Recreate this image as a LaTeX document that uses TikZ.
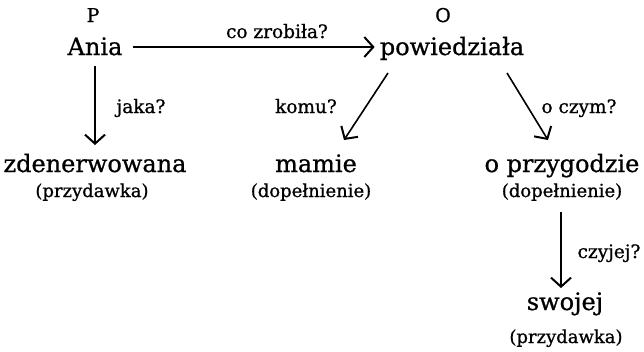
\documentclass[tikz,border=0pt]{standalone}
\usepackage{fontspec}
\setmainfont{DejaVu Serif}[RawFeature={embolden=0.8}]
\usetikzlibrary{arrows.meta,calc}
\begin{document}
\begin{tikzpicture}[x=1pt,y=-1pt,
  word/.style={inner sep=0pt, anchor=base, font=\fontsize{24}{26}\selectfont},
  sub/.style={inner sep=0pt, anchor=base, font=\fontsize{18}{20}\selectfont},
  lab/.style={inner sep=0pt, anchor=base, font=\fontsize{18.5}{20}\selectfont},
  tag/.style={inner sep=0pt, anchor=base, font=\fontsize{19}{21}\selectfont},
  arr/.style={line width=1.6pt, -{Straight Barb[length=9pt,width=20pt,line width=2pt]}}]
\useasboundingbox[fill=white] (0,0) rectangle (644,351);
% words
\node[word] (ania) at (95,55) {Ania};
\node[tag] (p) at (93,22) {P};
\node[word] (pow) at (452,55) {powiedziała};
\node[tag] (o) at (443,22) {O};
\node[word] (zden) at (95,172) {zdenerwowana};
\node[sub] (zdenS) at (92,197) {(przydawka)};
\node[word] (mamie) at (316,172) {mamie};
\node[sub] (mamieS) at (311,197) {(dopełnienie)};
\node[word] (przyg) at (562,172) {o przygodzie};
\node[sub] (przygS) at (562,197) {(dopełnienie)};
\node[word] (swojej) at (565,310) {swojej};
\node[sub] (swojejS) at (566,343) {(przydawka)};
% labels
\node[lab] (l1) at (277,38) {co zrobiła?};
\node[lab] (l2) at (141,113) {jaka?};
\node[lab] (l3) at (306,113) {komu?};
\node[lab] (l4) at (579,113) {o czym?};
\node[lab] (l5) at (609,258) {czyjej?};
% connectors
\draw[arr] ($(ania.base east)+(10,-8)$) -- ($(pow.base west)+(-5,-8)$);
\draw[arr] ($(ania.base)+(0,11)$) -- ($(zden.base)+(0,-27)$);
\draw[arr] ($(pow.base)+(-64,18)$) -- ($(mamie.base)+(28,-32)$);
\draw[arr] ($(pow.base)+(55,18)$) -- ($(przyg.base)+(-14,-32)$);
\draw[arr] ($(przygS.base)+(-1,15)$) -- ($(swojej.base)+(-4,-22)$);
\end{tikzpicture}
\end{document}
